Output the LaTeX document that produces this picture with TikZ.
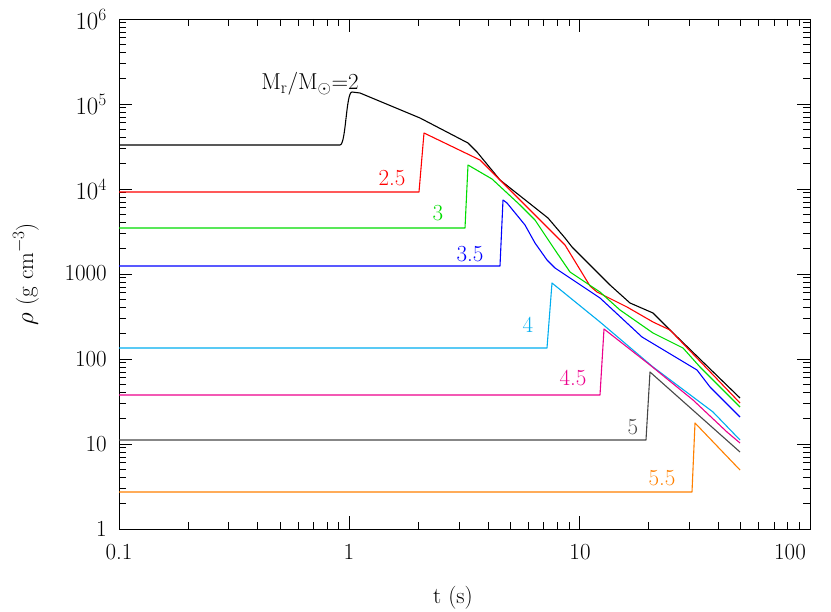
\documentclass[tikz,border=0pt]{standalone}
\definecolor{cgreen}{RGB}{0,220,0}
\definecolor{corange}{RGB}{255,128,0}
\definecolor{cgray}{RGB}{70,70,70}
\begin{document}
\begin{tikzpicture}[x=1pt,y=-1pt,
  curve/.style={line width=1.1pt,line join=round},
  lab/.style={font=\fontsize{23}{25}\selectfont,inner sep=0pt},
  tick/.style={line width=0.9pt}]
\useasboundingbox (0,0) rectangle (831,612);
\node[draw,line width=1pt,minimum width=691pt,minimum height=510pt,inner sep=0pt,anchor=north west] (frame) at (119,19) {};
% ticks
\foreach \d in {0,1,2}{\foreach \m in {1,...,9}{
  \pgfmathsetmacro\xx{119+(\d+ln(\m)/ln(10))*230.3}
  \pgfmathsetmacro\tl{\m==1 ? 13 : 7}
  \draw[tick] (\xx,529) -- ++(0,-\tl) (\xx,19) -- ++(0,\tl);}}
\foreach \d in {0,...,5}{\foreach \m in {1,...,9}{
  \pgfmathsetmacro\yy{529-(\d+ln(\m)/ln(10))*85}
  \pgfmathsetmacro\tl{\m==1 ? 13 : 7}
  \draw[tick] (119,\yy) -- ++(\tl,0) (810,\yy) -- ++(-\tl,0);}}
% tick labels
\foreach \x/\t in {119/0.1,349/1,580/10,790/100}
  \node[lab] (xl\t) at (\x,552) {\t};
\foreach \y/\t in {529/1,444/10,359/100,273/1000,189/$10^4$,104/$10^5$,19/$10^6$}
  \node[lab,anchor=east] (yl\y) at (107,\y) {\t};
\node[lab] (xlab) at (453,598) {t (s)};
\node[lab,rotate=90] (ylab) at (26,274) {$\rho$ (g cm$^{-3}$)};
% curves
\draw[curve,black] (119,145) -- (340,145) .. controls (346,145) and (346,92) .. (352,92) -- (360,93) -- (420,118) -- (468,143) -- (477,152) -- (500,180) -- (548,218) -- (565,238) -- (572,247) -- (600,275) -- (610,285) -- (630,303) -- (653,313) -- (670,330) -- (740,398);
\draw[curve,red] (119,192) -- (419,192) -- (424,133) -- (480,160) -- (530,210) -- (565,245) -- (590,286) -- (597,292) -- (627,307) -- (653,322) -- (670,330) -- (740,403);
\draw[curve,cgreen] (119,228) -- (465,228) -- (468,165) -- (492,179) -- (520,205) -- (535,220) -- (555,250) -- (570,272) -- (600,292) -- (620,310) -- (653,333) -- (683,348) -- (700,367) -- (740,407);
\draw[curve,blue] (119,266) -- (500,266) -- (503,200) -- (507,203) -- (525,225) -- (535,243) -- (547,260) -- (555,268) -- (600,298) -- (642,337) -- (667,352) -- (697,370) -- (710,387) -- (740,417);
\draw[curve,cyan] (119,348) -- (547,348) -- (552,283) -- (600,322) -- (653,367) -- (693,397) -- (713,412) -- (740,440);
\draw[curve,magenta] (119,395) -- (600,395) -- (604,329) -- (650,365) -- (693,400) -- (727,432) -- (740,443);
\draw[curve,cgray] (119,440) -- (646,440) -- (650,372) -- (740,452);
\draw[curve,corange] (119,492) -- (692,492) -- (695,423) -- (740,470);
% curve labels
\node[lab] (l2) at (310,84) {M$_\mathrm{r}$/M$_\odot$=2};
\node[lab,red] (l25) at (392,178) {2.5};
\node[lab,cgreen] (l3) at (438,213) {3};
\node[lab,blue] (l35) at (470,254) {3.5};
\node[lab,cyan] (l4) at (528,325) {4};
\node[lab,magenta] (l45) at (573,378) {4.5};
\node[lab,cgray] (l5) at (633,427) {5};
\node[lab,corange] (l55) at (662,478) {5.5};
\end{tikzpicture}
\end{document}
